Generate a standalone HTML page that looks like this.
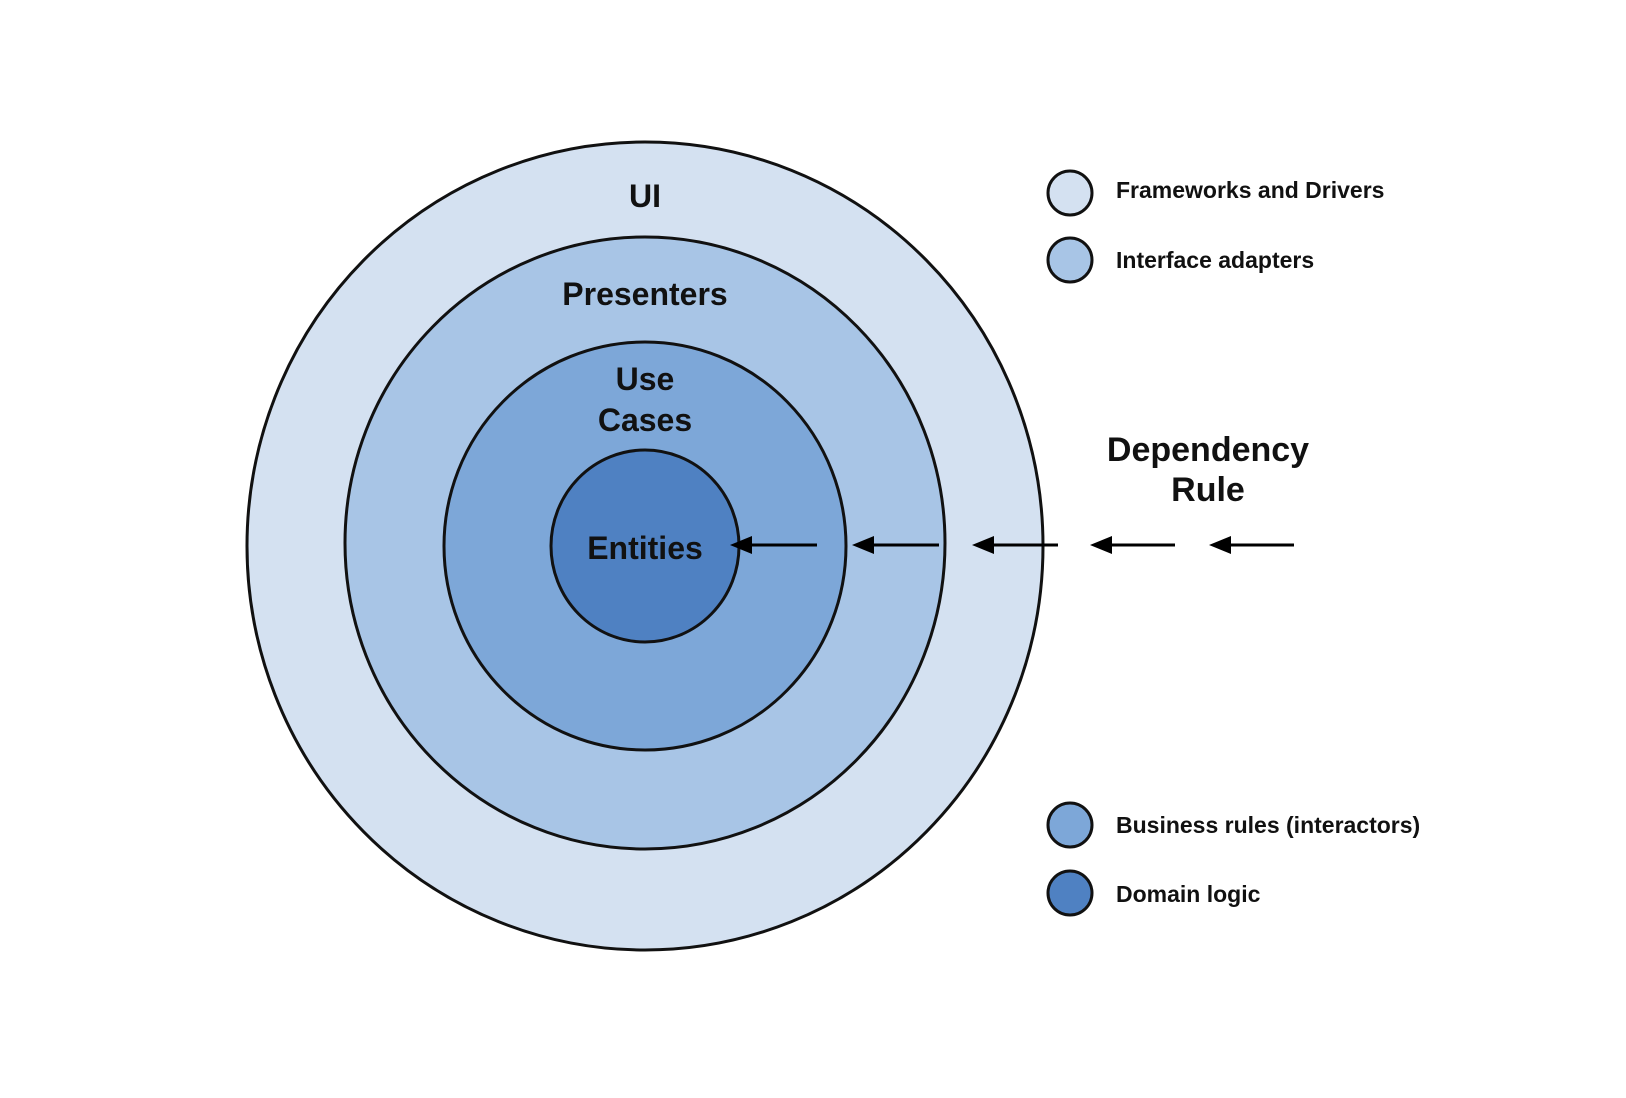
<!DOCTYPE html>
<html><head><meta charset="utf-8"><style>
html,body{margin:0;padding:0;background:#fff;}
svg{display:block;}
text{font-family:"Liberation Sans",Arial,sans-serif;font-weight:bold;fill:#111;}
</style></head><body>
<svg width="1626" height="1098" viewBox="0 0 1626 1098" xmlns="http://www.w3.org/2000/svg">
<ellipse cx="645" cy="546" rx="398" ry="404" fill="#d4e1f1" stroke="#111" stroke-width="3"/>
<ellipse cx="645" cy="543" rx="300" ry="306" fill="#a8c5e6" stroke="#111" stroke-width="3"/>
<ellipse cx="645" cy="546" rx="201" ry="204" fill="#7da7d8" stroke="#111" stroke-width="3"/>
<ellipse cx="645" cy="546" rx="94" ry="96" fill="#4f81c2" stroke="#111" stroke-width="3"/>
<text x="645" y="207" font-size="32" text-anchor="middle">UI</text>
<text x="645" y="305" font-size="32" text-anchor="middle">Presenters</text>
<text x="645" y="390" font-size="32" text-anchor="middle">Use</text>
<text x="645" y="431" font-size="32" text-anchor="middle">Cases</text>
<text x="645" y="559" font-size="32" text-anchor="middle">Entities</text>
<text x="1208" y="461" font-size="34" text-anchor="middle">Dependency</text>
<text x="1208" y="501" font-size="34" text-anchor="middle">Rule</text>
<g stroke="#000" stroke-width="3" fill="none">
<line x1="817" y1="545" x2="740" y2="545"/>
<line x1="939" y1="545" x2="862" y2="545"/>
<line x1="1058" y1="545" x2="982" y2="545"/>
<line x1="1175" y1="545" x2="1100" y2="545"/>
<line x1="1294" y1="545" x2="1219" y2="545"/>
</g>
<g fill="#000">
<path d="M730,545 L752,536 L752,554 Z"/>
<path d="M852,545 L874,536 L874,554 Z"/>
<path d="M972,545 L994,536 L994,554 Z"/>
<path d="M1090,545 L1112,536 L1112,554 Z"/>
<path d="M1209,545 L1231,536 L1231,554 Z"/>
</g>
<g stroke="#111" stroke-width="3">
<circle cx="1070" cy="193" r="22" fill="#d4e1f1"/>
<circle cx="1070" cy="260" r="22" fill="#a8c5e6"/>
<circle cx="1070" cy="825" r="22" fill="#7da7d8"/>
<circle cx="1070" cy="893" r="22" fill="#4f81c2"/>
</g>
<text x="1116" y="198" font-size="23">Frameworks and Drivers</text>
<text x="1116" y="268" font-size="23">Interface adapters</text>
<text x="1116" y="833" font-size="23">Business rules (interactors)</text>
<text x="1116" y="902" font-size="23">Domain logic</text>
</svg>
</body></html>
